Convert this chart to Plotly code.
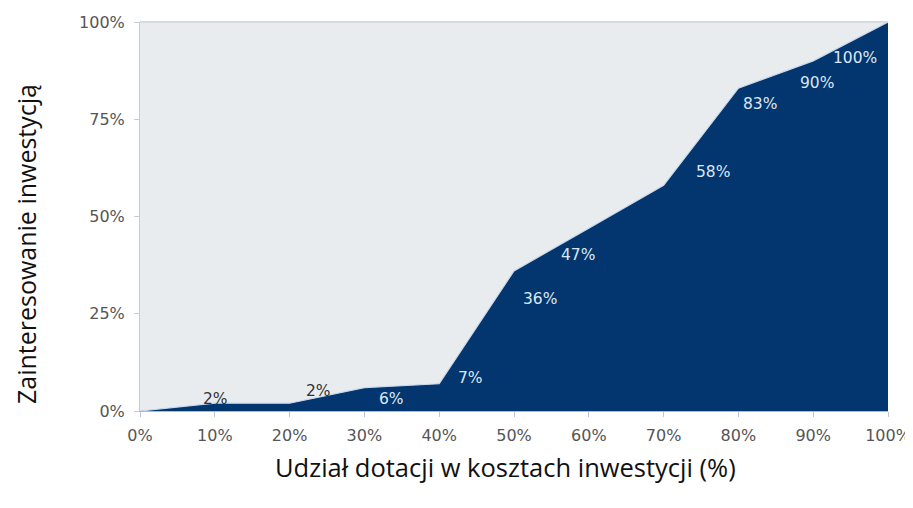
import plotly.graph_objects as go

x_vals = [0, 10, 20, 30, 40, 50, 60, 70, 80, 90, 100]
y_vals = [0, 2, 2, 6, 7, 36, 47, 58, 83, 90, 100]
label_points = [10, 20, 30, 40, 50, 60, 70, 80, 90, 100]
label_vals = [2, 2, 6, 7, 36, 47, 58, 83, 90, 100]
x_ticks = [0, 10, 20, 30, 40, 50, 60, 70, 80, 90, 100]
y_ticks = [0, 25, 50, 75, 100]

# label pixel offsets (style)
label_shift = [(1, 4), (29, 12), (27, -11), (31, 6), (26, -28), (-11, -27),
               (49, 13), (22, -16), (4, -22), (-33, -36)]
label_colors = ["#333333", "#333333"] + ["#dce6f4"] * 8

fig = go.Figure()
fig.add_trace(go.Scatter(
    x=x_vals, y=y_vals, mode="lines", fill="tozeroy",
    fillcolor="#03366f", line=dict(color="#c9d9ee", width=1.2),
    hoverinfo="skip", showlegend=False))

for xv, yv, (dx, dy), c in zip(label_points, label_vals, label_shift, label_colors):
    fig.add_annotation(x=xv, y=yv, text=f"{yv}%", showarrow=False,
                       xshift=dx, yshift=dy,
                       font=dict(family="DejaVu Sans", size=15.5, color=c))

fig.add_annotation(x=0.489, y=-0.144, xref="paper", yref="paper",
                   text="Udział dotacji w kosztach inwestycji (%)",
                   showarrow=False, xanchor="center", yanchor="middle",
                   font=dict(family="Open Sans", size=25.5, color="#111111"))
fig.add_annotation(x=-0.1525, y=0.429, xref="paper", yref="paper",
                   text="Zainteresowanie inwestycją", textangle=-90,
                   showarrow=False, xanchor="center", yanchor="middle",
                   font=dict(family="Open Sans", size=25, color="#111111"))

fig.update_layout(
    width=905, height=500,
    margin=dict(l=132, r=25, t=14, b=97, autoexpand=False),
    paper_bgcolor="white", plot_bgcolor="#e9ecef",
    font=dict(family="DejaVu Sans", color="#555555"),
    xaxis=dict(range=[0, 100], tickvals=x_ticks,
               ticktext=[f"{v}%" for v in x_ticks], automargin=False,
               showgrid=False, zeroline=False, showline=True,
               linecolor="#a9bcd6", ticks="outside", ticklen=5,
               ticklabelstandoff=5,
               tickcolor="#b8c6d8", tickfont=dict(size=16, color="#555555")),
    yaxis=dict(range=[0, 100], tickvals=y_ticks,
               ticktext=[f"{v}%" for v in y_ticks], automargin=False,
               showgrid=False, zeroline=False, showline=True,
               linecolor="#c8cccf", ticks="outside", ticklen=5,
               ticklabelstandoff=6,
               tickcolor="#c8cccf", tickfont=dict(size=16, color="#555555")),
)
fig.add_shape(type="line", xref="paper", yref="paper", x0=0, x1=1, y0=1, y1=1,
              line=dict(color="#d8dadc", width=2))

fig.write_html("out.html")
